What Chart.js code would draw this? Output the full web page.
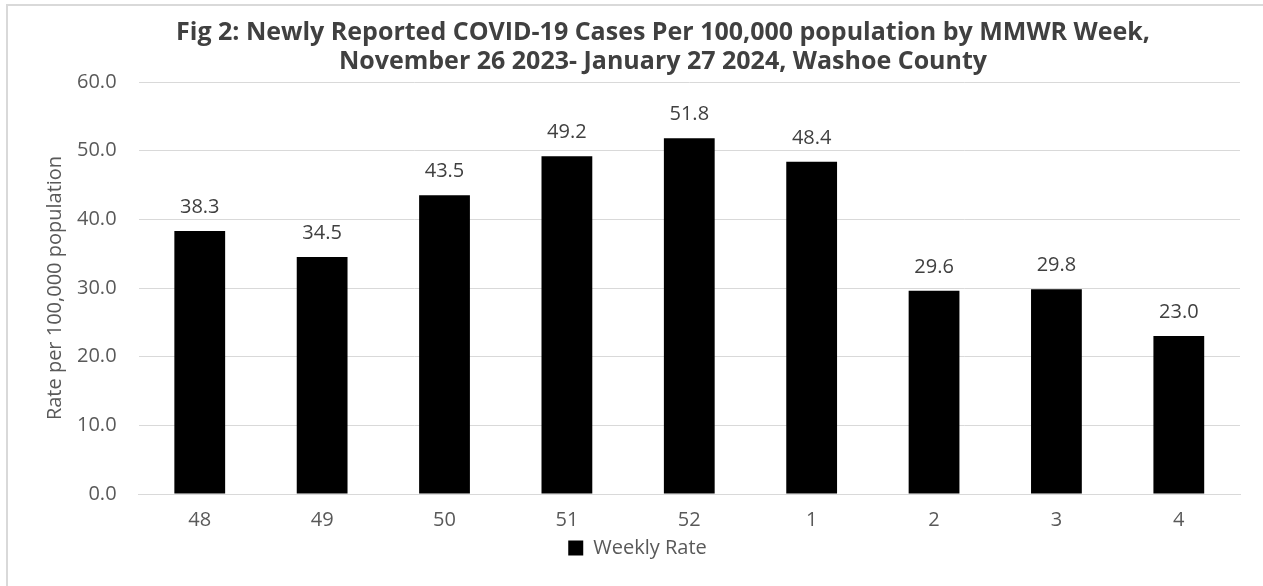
<!DOCTYPE html>
<html>
<head>
<meta charset="utf-8">
<script src="https://cdn.jsdelivr.net/npm/chart.js@4.4.0/dist/chart.umd.min.js"></script>
<style>
html,body{margin:0;padding:0;background:#fff;}
#wrap{position:relative;width:1263px;height:586px;}
</style>
</head>
<body>
<div id="wrap"><canvas id="c" width="1263" height="586"></canvas></div>
<script>
const weeks = ['48','49','50','51','52','1','2','3','4'];
const weeklyRate = [38.3, 34.5, 43.5, 49.2, 51.8, 48.4, 29.6, 29.8, 23.0];
const titleLines = ['Fig 2: Newly Reported COVID-19 Cases Per 100,000 population by MMWR Week,', 'November 26 2023- January 27 2024, Washoe County'];
const yTitle = 'Rate per 100,000 population';
const seriesName = 'Weekly Rate';

const FONT = "'Open Sans', 'Noto Sans', sans-serif";

const borderPlugin = {
  id: 'frame',
  beforeDraw(chart) {
    const ctx = chart.ctx;
    ctx.save();
    ctx.fillStyle = '#fff';
    ctx.fillRect(0, 0, chart.width, chart.height);
    ctx.strokeStyle = '#d9d9d9';
    ctx.lineWidth = 2;
    ctx.beginPath();
    ctx.moveTo(7, chart.height);
    ctx.lineTo(7, 5);
    ctx.lineTo(chart.width, 5);
    ctx.stroke();
    ctx.restore();
  }
};

const titlePlugin = {
  id: 'titleText',
  afterDraw(chart) {
    const ctx = chart.ctx;
    ctx.save();
    ctx.font = "bold 25px " + FONT;
    ctx.fillStyle = '#404040';
    ctx.textAlign = 'center';
    ctx.textBaseline = 'alphabetic';
    titleLines.forEach((t, i) => ctx.fillText(t, 663, 40 + i * 29));
    ctx.restore();
  }
};

const labelPlugin = {
  id: 'barLabels',
  afterDatasetsDraw(chart) {
    const ctx = chart.ctx;
    const meta = chart.getDatasetMeta(0);
    ctx.save();
    ctx.font = "20px " + FONT;
    ctx.fillStyle = '#404040';
    ctx.textAlign = 'center';
    ctx.textBaseline = 'alphabetic';
    meta.data.forEach((bar, i) => {
      ctx.fillText(weeklyRate[i].toFixed(1), bar.x, bar.y - 18);
    });
    ctx.restore();
  }
};

new Chart(document.getElementById('c'), {
  type: 'bar',
  data: {
    labels: weeks,
    datasets: [{
      label: seriesName,
      data: weeklyRate,
      backgroundColor: '#000000',
      borderWidth: 0,
      categoryPercentage: 1.0,
      barPercentage: 0.415
    }]
  },
  options: {
    responsive: false,
    animation: false,
    layout: { padding: { top: 82, left: 35, right: 23, bottom: 18 } },
    plugins: {
      title: { display: false },
      legend: {
        display: true,
        position: 'bottom',
        labels: {
          color: '#595959',
          font: { family: FONT, size: 20 },
          boxWidth: 15,
          boxHeight: 15,
          padding: 4
        }
      },
      tooltip: { enabled: false }
    },
    scales: {
      x: {
        grid: { display: false, drawTicks: false },
        border: { display: true, color: '#d9d9d9', width: 1 },
        ticks: { color: '#595959', font: { family: FONT, size: 20 }, padding: 14 },
        afterFit(scale) { scale.height -= 12; }
      },
      y: {
        min: 0, max: 60,
        grid: { color: '#d9d9d9', lineWidth: 1, drawTicks: false },
        border: { display: false },
        ticks: {
          stepSize: 10,
          color: '#595959',
          font: { family: FONT, size: 20 },
          padding: 22,
          callback: v => Number(v).toFixed(1)
        },
        title: {
          display: true,
          text: yTitle,
          color: '#595959',
          font: { family: FONT, size: 20 },
          padding: { top: 8, bottom: -12 }
        }
      }
    }
  },
  plugins: [borderPlugin, titlePlugin, labelPlugin]
});
</script>
</body>
</html>
